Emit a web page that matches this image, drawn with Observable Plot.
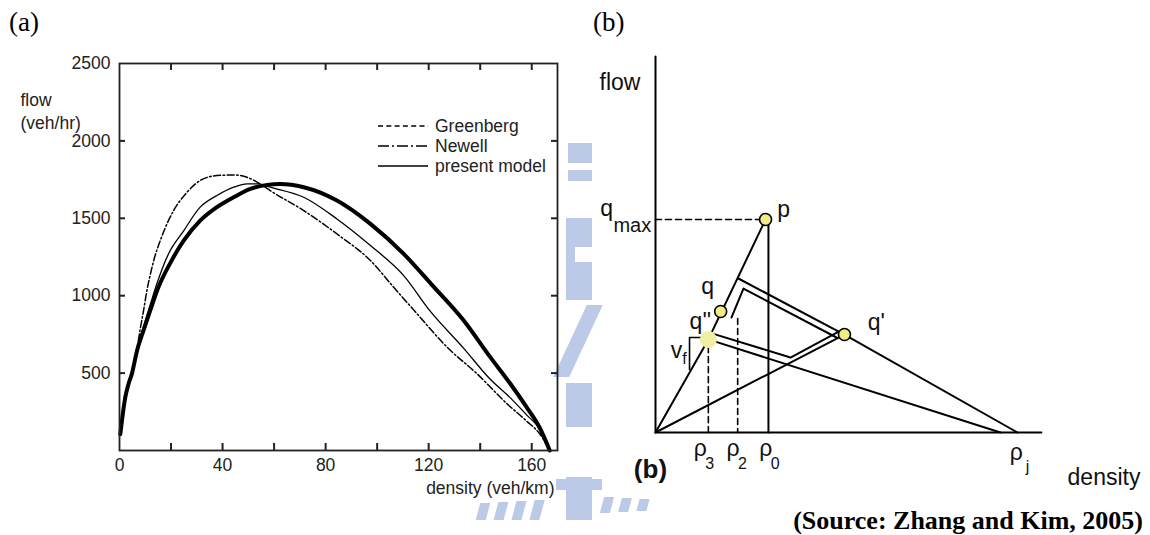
<!DOCTYPE html>
<html>
<head>
<meta charset="utf-8">
<script src="https://cdn.jsdelivr.net/npm/d3@7"></script>
<script src="https://cdn.jsdelivr.net/npm/@observablehq/plot@0.6"></script>
<style>
  html, body { margin: 0; padding: 0; background: #fff; }
  #root { position: relative; width: 1150px; height: 535px; overflow: hidden; background: #fff;
          font-family: "Liberation Sans", Arial, Helvetica, sans-serif; }
  .wm { position: absolute; background: #bccae8; }
  .panel { position: absolute; top: 0; }
  .panel svg { overflow: visible; }
  .plabel { position: absolute; font-family: "Liberation Serif", "Times New Roman", serif; font-size: 27px;
            line-height: 30px; color: #000; white-space: nowrap; }
  #source { position: absolute; right: 7px; top: 506px; font-family: "Liberation Serif", "Times New Roman", serif;
            font-weight: bold; font-size: 26px; line-height: 30px; white-space: nowrap; color: #000; }
  #legend { position: absolute; left: 378px; top: 116px; font-size: 17.5px; color: #222; }
  #legend .row { height: 20px; display: flex; align-items: center; white-space: nowrap; }
  #legend .row span { margin-left: 7px; }
</style>
</head>
<body>
<div id="root">
  <div id="watermark"></div>
  <div id="panelA" class="panel" style="left:0px"></div>
  <div id="panelB" class="panel" style="left:580px"></div>
  <div id="legend"></div>
  <div class="plabel" style="left:9px; top:7px">(a)</div>
  <div class="plabel" style="left:593px; top:7px">(b)</div>
  <div id="source">(Source: Zhang and Kim, 2005)</div>
</div>
<script>
// ---------------- Panel (a): flow–density curves ----------------
const seriesNames = ["Greenberg", "Newell", "present model"];

const greenbergDensity = [0.3, 1, 2.2, 3.5, 4.8, 6.8, 9.3, 11.9, 15.1, 20, 24.9, 31.3, 37.8, 44.3, 50.8, 57.3, 62.4, 71.5, 84.4, 97.4, 110.3, 121, 133.6, 143.9, 151.7, 158, 163, 167];
const greenbergFlow    = [105, 200, 340, 430, 495, 645, 774, 903, 1054, 1220, 1355, 1485, 1572, 1636, 1690, 1716, 1722, 1701, 1615, 1464, 1270, 1075, 840, 603, 431, 280, 150, 0];

const newellDensity = [0.3, 1, 2.2, 4.8, 6.8, 8.1, 9.4, 10.6, 12, 13.5, 15.8, 21, 26.2, 31.3, 37.8, 44.3, 49.5, 54.6, 58.5, 71.5, 84.4, 97.4, 106.4, 115.5, 127.1, 138.8, 150.4, 158, 163, 167];
const newellFlow    = [105, 200, 340, 510, 660, 790, 910, 1030, 1140, 1240, 1355, 1550, 1668, 1744, 1776, 1780, 1765, 1722, 1679, 1550, 1399, 1227, 1055, 883, 668, 495, 302, 190, 110, 0];

const presentDensity = [0.3, 1, 2.2, 4.8, 6.8, 9.3, 11.9, 14.5, 19, 24.9, 31.3, 37.8, 44.3, 49.5, 54, 58.5, 71.5, 84.4, 97.4, 110.3, 120.6, 133.6, 143.9, 151.7, 158, 163, 167];
const presentFlow    = [105, 200, 340, 500, 655, 800, 940, 1077, 1270, 1419, 1572, 1647, 1701, 1723, 1722, 1701, 1636, 1496, 1324, 1130, 900, 660, 460, 340, 230, 140, 0];

const xTickValues = [20, 40, 60, 80, 100, 120, 140, 160];
const xTickLabels = [0, 40, 80, 120, 160];
const yTickValues = [500, 1000, 1500, 2000];
const yTickLabels = [500, 1000, 1500, 2000, 2500];
const yAxisTitle = "flow\n(veh/hr)";
const xAxisTitle = "density (veh/km)";

const toRows = (name, xs, ys) => xs.map((d, i) => ({series: name, density: d, flow: ys[i]}));
const greenbergRows = toRows(seriesNames[0], greenbergDensity, greenbergFlow);
const newellRows = toRows(seriesNames[1], newellDensity, newellFlow);
const presentRows = toRows(seriesNames[2], presentDensity, presentFlow);

// frame geometry and inward tick lengths (converted from pixels into scale units)
const W_A = 580, H_A = 535, mL = 119, mR = 23, mT = 63, mB = 85;
const xMax = 170, yMax = 2500;
const frameW = W_A - mL - mR, frameH = H_A - mT - mB;
const xTickLen = 7 * yMax / frameH;   // vertical length of density ticks (7 px)
const yTickLen = 6 * xMax / frameW;   // horizontal length of flow ticks (6 px)

const axisColor = "#222";
const tickStyle = {stroke: axisColor, strokeWidth: 2};
const plotA = Plot.plot({
  width: W_A, height: H_A,
  marginLeft: mL, marginRight: mR, marginTop: mT, marginBottom: mB,
  x: {domain: [0, xMax]},
  y: {domain: [0, yMax]},
  style: {fontFamily: "Liberation Sans, Arial, Helvetica, sans-serif", fontSize: "17.5px", color: "#222", background: "transparent", overflow: "visible"},
  marks: [
    Plot.line(greenbergRows, {x: "density", y: "flow", stroke: "#000", strokeWidth: 4, curve: "monotone-x"}),
    Plot.line(presentRows, {x: "density", y: "flow", stroke: "#000", strokeWidth: 1.3, curve: "monotone-x"}),
    Plot.line(newellRows, {x: "density", y: "flow", stroke: "#000", strokeWidth: 1.5, strokeDasharray: "7,2.5,1.6,2.5", curve: "monotone-x"}),
    Plot.frame({stroke: axisColor, strokeWidth: 1.8}),
    Plot.ruleX(xTickValues, {x: d => d, y1: 0, y2: xTickLen, ...tickStyle}),
    Plot.ruleX(xTickValues, {x: d => d, y1: yMax - xTickLen, y2: yMax, ...tickStyle}),
    Plot.ruleY(yTickValues, {y: d => d, x1: 0, x2: yTickLen, ...tickStyle}),
    Plot.ruleY(yTickValues, {y: d => d, x1: xMax - yTickLen, x2: xMax, ...tickStyle}),
    Plot.axisX({ticks: xTickLabels, tickSize: 0, tickPadding: 8, label: null, tickFormat: d => String(d)}),
    Plot.axisY({ticks: yTickLabels, tickSize: 0, tickPadding: 9, label: null, tickFormat: d => String(d)}),
    Plot.text([yAxisTitle], {text: d => d, frameAnchor: "top-left", dx: -99, dy: 26, textAnchor: "start", lineAnchor: "top", lineHeight: 1.31, fill: "#222"}),
    Plot.text([xAxisTitle], {text: d => d, frameAnchor: "bottom-right", dx: -3, dy: 38, textAnchor: "end", lineAnchor: "middle", fill: "#222"})
  ]
});
document.getElementById("panelA").appendChild(plotA);

// legend for panel (a)
const legendDash = ["5,3.3", "11,3,2,3", null];
const legendEl = document.getElementById("legend");
seriesNames.forEach((name, i) => {
  const row = document.createElement("div");
  row.className = "row";
  const dash = legendDash[i] ? ` stroke-dasharray="${legendDash[i]}"` : "";
  row.innerHTML = `<svg width="50" height="10"><line x1="0" y1="5" x2="50" y2="5" stroke="#000" stroke-width="1.3"${dash}/></svg><span>${name}</span>`;
  legendEl.appendChild(row);
});

// ---------------- Panel (b): schematic diagram ----------------
// diagram units: density 0..100 (rho_j = 100), flow 0..100 (q_max = 100)
const axisPath = [[0, 176.5], [0, 0], [106.6, 0]];
const freeFlowPath = [[0, 0], [14.6, 43.7], [30.4, 100]];
const rho0Path = [[31.2, 0], [31.2, 100]];
const qPrimePath = [[0, 0], [52.2, 46.0], [100, 0]];
const qDoublePrimeJamPath = [[14.6, 43.7], [95.3, 0]];
const outerPath = [[22.9, 72.3], [51.0, 47.0]];
const innerPath = [[21.0, 54.0], [24.3, 67.6], [50.0, 44.6]];
const upperVPath = [[16.0, 46.3], [37.3, 35.2], [50.6, 47.4]];
const vfBracketPath = [[9.4, 29.6], [9.4, 44.6], [13.0, 44.6]];
const qmaxDashPath = [[0, 100], [28.6, 100]];
const rho3DashPath = [[14.6, 40.3], [14.6, 0]];
const rho2DashPath = [[22.7, 53.5], [22.7, 0]];

const stateX = [30.4, 18.0, 52.2];       // p, q, q'
const stateY = [100, 56.8, 46.0];
const fadedStateX = [14.6];              // q''
const fadedStateY = [43.7];

const labelText = ["p", "q", "q''", "q'", "v", "q", "flow", "density", "ρ", "ρ", "ρ", "ρ"];
const labelX    = [35.4, 14.4, 12.4, 61.0, 5.8, -13.5, -9.8, 123.9, 12.4, 21.4, 30.5, 99.7];
const labelY    = [104.7, 68.5, 52.1, 51.6, 38.5, 105.2, 164.3, -21.1, -7.5, -7.5, -7.5, -9.4];
const subText   = ["f", "max", "3", "2", "0", "j"];
const subX      = [8.0, -6.4, 15.0, 24.0, 33.1, 102.8];
const subY      = [34.7, 97.2, -14.6, -14.6, -14.6, -16.0];
const subSize   = [16, 20, 16, 16, 16, 16];
const panelTag = ["(b)"];
const panelTagX = [-1.4];
const panelTagY = [-17.4];

const pt = {x: d => d[0], y: d => d[1]};
const solid = {...pt, stroke: "#000", strokeWidth: 2};
const dashed = {...pt, stroke: "#000", strokeWidth: 1.6, strokeDasharray: "6,4"};

const plotB = Plot.plot({
  width: 570, height: 535, margin: 0,
  x: {domain: [0, 100], range: [75, 437], axis: null},
  y: {domain: [0, 100], range: [432, 219], axis: null},
  style: {fontFamily: "Liberation Sans, Arial, Helvetica, sans-serif", fontSize: "24px", color: "#000", background: "transparent", overflow: "visible"},
  marks: [
    Plot.line(axisPath, {...pt, stroke: "#000", strokeWidth: 2}),
    Plot.line(freeFlowPath, solid),
    Plot.line(rho0Path, solid),
    Plot.line(qPrimePath, solid),
    Plot.line(qDoublePrimeJamPath, solid),
    Plot.line(outerPath, solid),
    Plot.line(innerPath, solid),
    Plot.line(upperVPath, solid),
    Plot.line(vfBracketPath, {...pt, stroke: "#000", strokeWidth: 1.6}),
    Plot.line(qmaxDashPath, dashed),
    Plot.line(rho3DashPath, dashed),
    Plot.line(rho2DashPath, dashed),
    Plot.dot(fadedStateX, {x: d => d, y: (d, i) => fadedStateY[i], r: 8.5, fill: "#f1f0a2", stroke: "none"}),
    Plot.dot(stateX, {x: d => d, y: (d, i) => stateY[i], r: 6, fill: "#f2ec84", stroke: "#000", strokeWidth: 1.6}),
    Plot.text(labelText, {x: (d, i) => labelX[i], y: (d, i) => labelY[i], text: d => d, fontSize: 23, textAnchor: "middle", lineAnchor: "middle", fill: "#111"}),
    Plot.text(subText, {x: (d, i) => subX[i], y: (d, i) => subY[i], text: d => d, fontSize: (d, i) => subSize[i], textAnchor: "middle", lineAnchor: "middle", fill: "#111"}),
    Plot.text(panelTag, {x: (d, i) => panelTagX[i], y: (d, i) => panelTagY[i], text: d => d, fontSize: 26, fontWeight: "bold", textAnchor: "middle", lineAnchor: "middle", fill: "#111"})
  ]
});
document.getElementById("panelB").appendChild(plotB);

// ---------------- faint background watermark ----------------
const wmBlocks = [
  [568, 143, 24, 20], [568, 170, 24, 11],
  [566, 218, 26, 29], [566, 247, 9, 15], [566, 262, 26, 38],
  [566, 383, 26, 44], [566, 477, 26, 43], [556, 479, 46, 11]
];
const wmEl = document.getElementById("watermark");
wmBlocks.forEach(([l, t, w, h]) => {
  const d = document.createElement("div");
  d.className = "wm";
  d.style.cssText = `left:${l}px;top:${t}px;width:${w}px;height:${h}px`;
  wmEl.appendChild(d);
});
const wmSkew = [[570, 305, 16, 72, -25], [478, 503, 10, 17, -15], [496, 502, 10, 18, -15], [514, 501, 10, 19, -15], [532, 500, 10, 20, -15], [602, 497, 10, 16, -15], [620, 498, 10, 14, -15], [638, 499, 10, 12, -15]];
wmSkew.forEach(([l, t, w, h, s]) => {
  const d = document.createElement("div");
  d.className = "wm";
  d.style.cssText = `left:${l}px;top:${t}px;width:${w}px;height:${h}px;transform:skewX(${s}deg)`;
  wmEl.appendChild(d);
});
</script>
</body>
</html>
